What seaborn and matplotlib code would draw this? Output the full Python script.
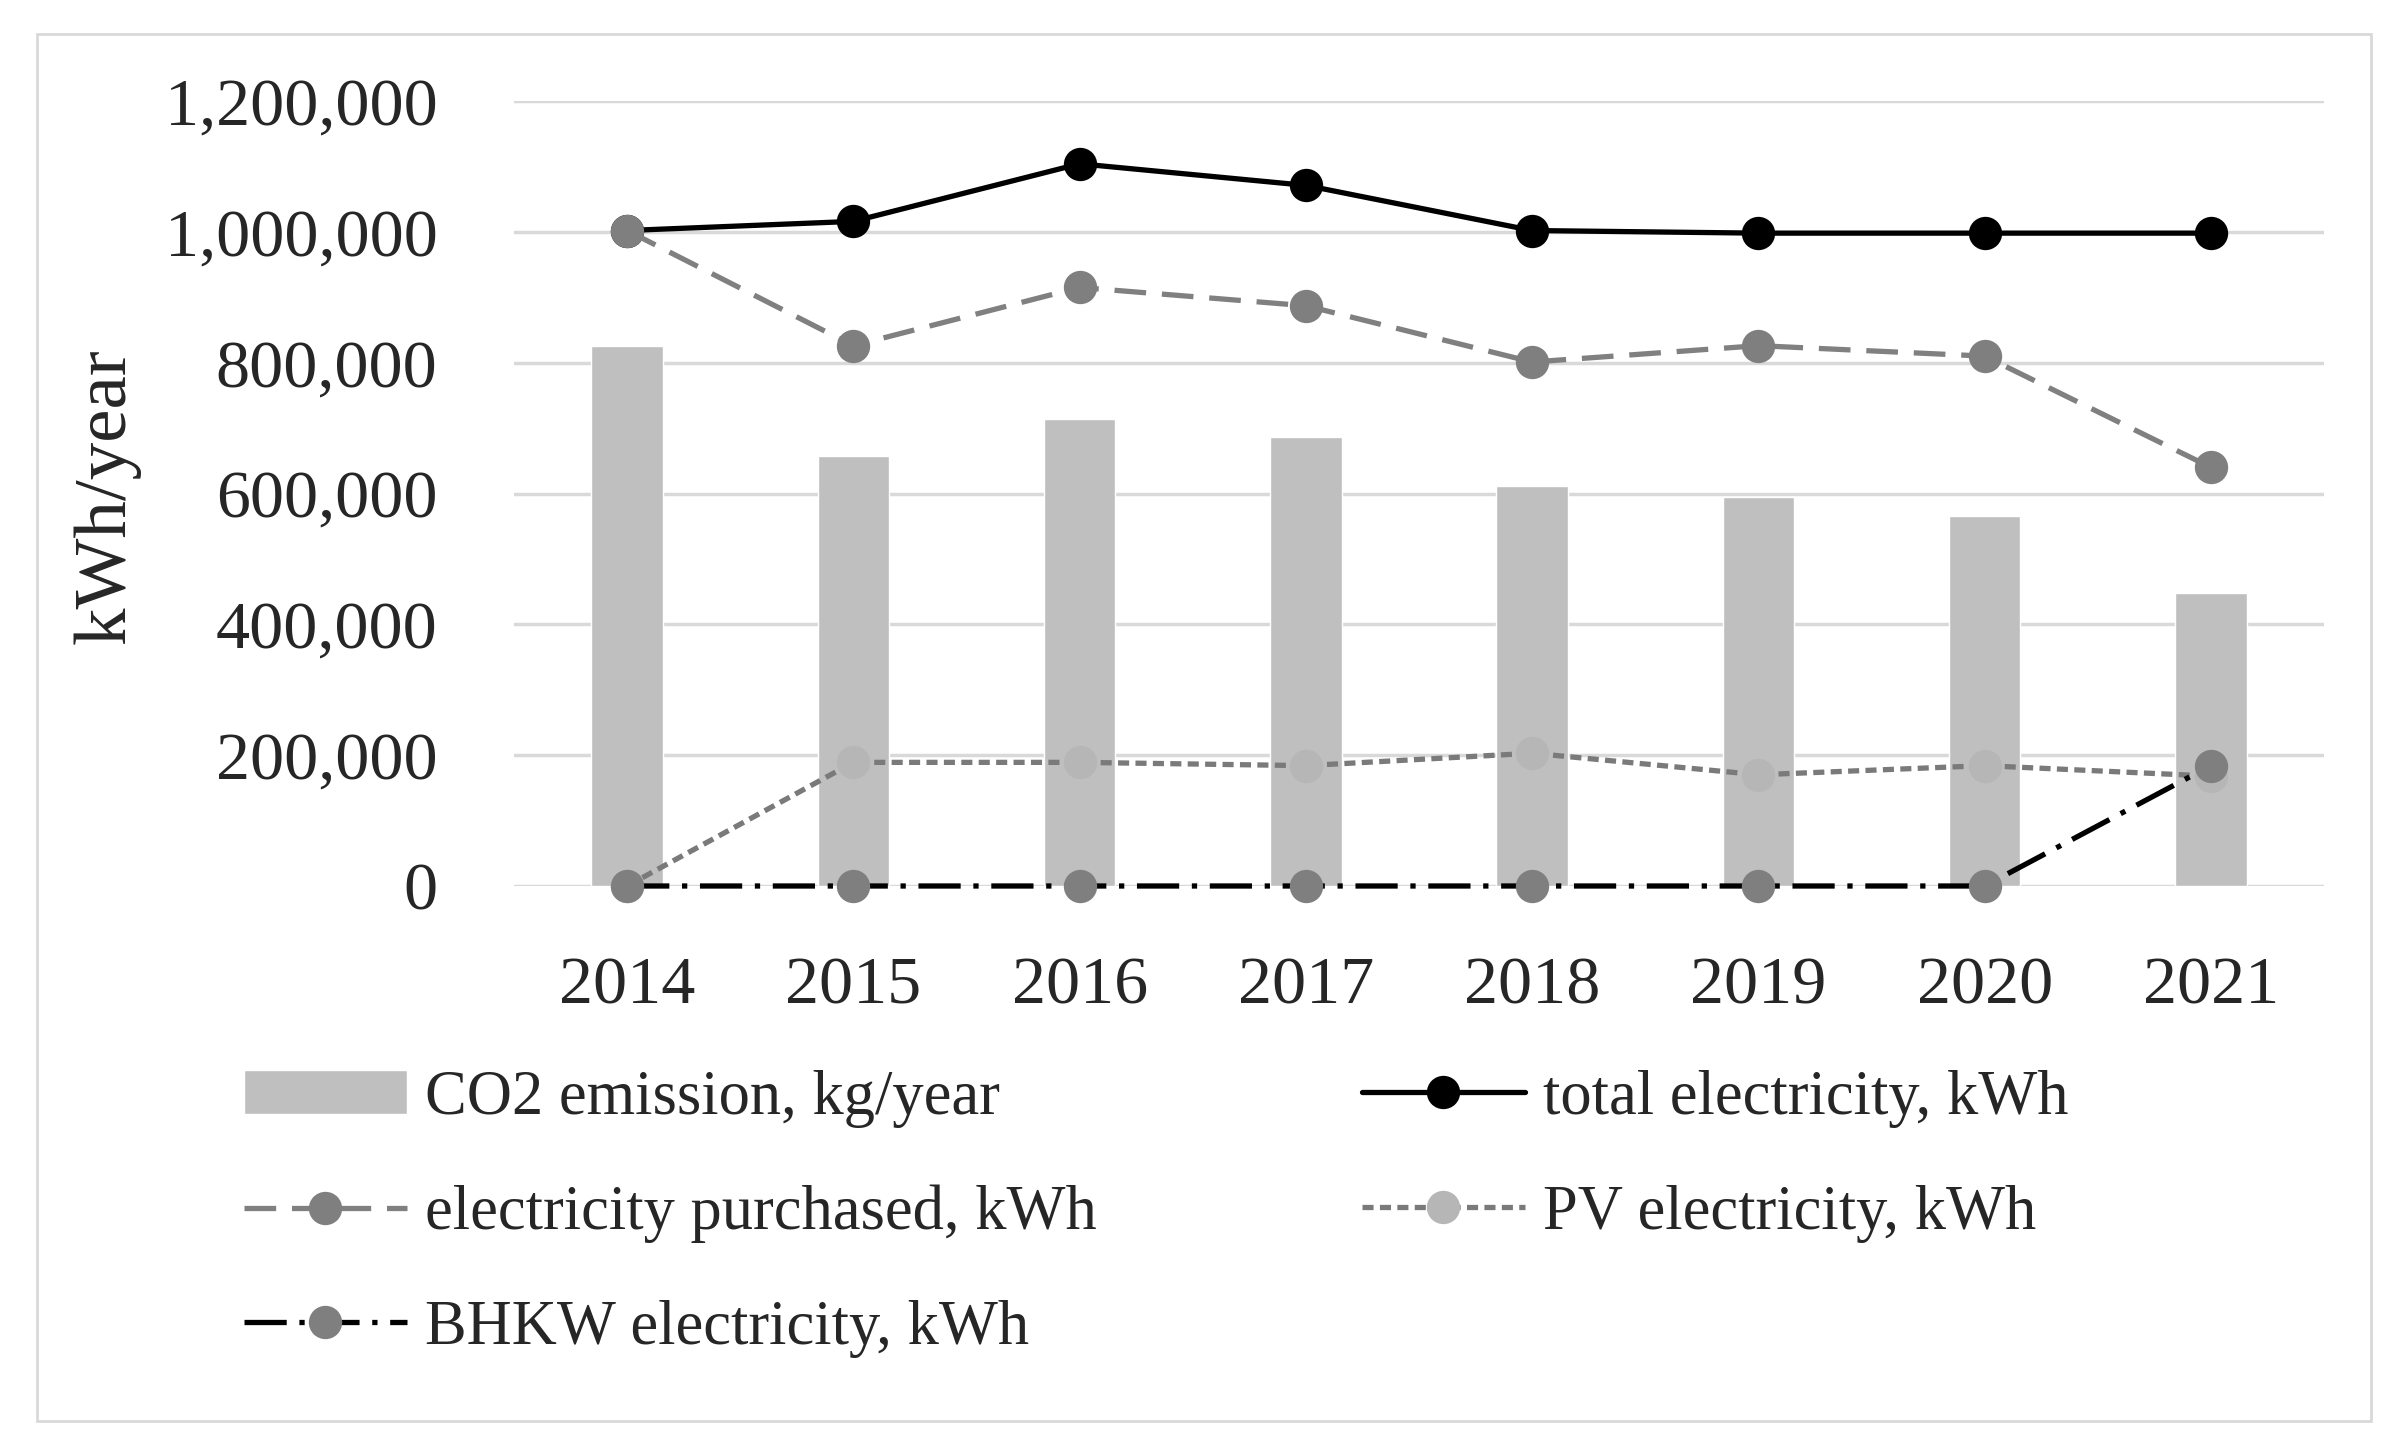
import numpy as np
import pandas as pd
import seaborn as sns
import matplotlib.pyplot as plt
from matplotlib.patches import Rectangle
from matplotlib.ticker import FuncFormatter

# chart values
years = [2014, 2015, 2016, 2017, 2018, 2019, 2020, 2021]
co2_emission = [826000, 658000, 714000, 686000, 612000, 595000, 565000, 448000]
total_el = [1002000, 1016000, 1104000, 1071000, 1002000, 998000, 998000, 998000]
purchased_el = [1002000, 826000, 915000, 887000, 801000, 826000, 810000, 640000]
pv_el = [0, 189000, 189000, 184000, 203000, 170000, 184000, 168000]
bhkw_el = [0, 0, 0, 0, 0, 0, 0, 184000]

y_ticks = [0, 200000, 400000, 600000, 800000, 1000000, 1200000]

df = pd.DataFrame({
    "year": years, "co2": co2_emission, "total": total_el,
    "purchased": purchased_el, "pv": pv_el, "bhkw": bhkw_el,
})

sns.set_theme(style="white")
plt.rcParams["font.family"] = ["Liberation Serif", "DejaVu Serif"]

W, H = 2383, 1449
fig = plt.figure(figsize=(W / 100, H / 100), dpi=100)
ax = fig.add_axes([514 / W, 1 - 886 / H, (2324 - 514) / W, (886 - 101) / H])

# bars
sns.barplot(data=df, x="year", y="co2", native_scale=True, width=0.315,
            color="#bfbfbf", saturation=1, ax=ax, label="CO2 emission, kg/year",
            zorder=2)

lw = 3.8
ms = 24
sns.lineplot(data=df, x="year", y="total", color="black", lw=lw,
             marker="o", markersize=ms, markeredgewidth=0, ax=ax,
             label="total electricity, kWh", zorder=3, clip_on=False)
sns.lineplot(data=df, x="year", y="purchased", color="#808080", lw=lw,
             linestyle=(0, (6, 3)), marker="o", markersize=ms,
             markerfacecolor="#7f7f7f", markeredgewidth=0, ax=ax,
             label="electricity purchased, kWh", zorder=4, clip_on=False)
sns.lineplot(data=df, x="year", y="pv", color="#7a7a7a", lw=lw,
             linestyle=(0, (2.1, 1.2)), marker="o", markersize=ms,
             markerfacecolor="#b6b6b6", markeredgewidth=0, ax=ax,
             label="PV electricity, kWh", zorder=5, clip_on=False)
sns.lineplot(data=df, x="year", y="bhkw", color="black", lw=lw,
             linestyle=(0, (8, 2.4, 1, 2.4)), marker="o", markersize=ms,
             markerfacecolor="#7f7f7f", markeredgewidth=0, ax=ax,
             label="BHKW electricity, kWh", zorder=6, clip_on=False)

ax.set_xlim(2013.5, 2021.5)
ax.set_ylim(0, 1200000)
ax.set_xticks(years)
ax.set_xticklabels([str(y) for y in years])
ax.set_yticks(y_ticks)
ax.yaxis.set_major_formatter(FuncFormatter(lambda v, p: f"{v:,.0f}"))
ax.set_xlabel("")
ax.set_ylabel("")
ax.grid(axis="y", color="#d9d9d9", lw=2.5)
ax.grid(axis="x", visible=False)
ax.set_axisbelow(True)
for s in ax.spines.values():
    s.set_visible(False)
ax.tick_params(axis="y", length=0, pad=55, labelsize=49, labelcolor="#262626")
ax.tick_params(axis="x", length=0, pad=51, labelsize=49, labelcolor="#262626")

fig.text(107 / W, 1 - 496 / H, "kWh/year", rotation=90, ha="center",
         va="center", fontsize=54, color="#262626")

# legend in two columns, placed by hand
handles, labels = ax.get_legend_handles_labels()
lookup = dict(zip(labels, handles))
ax.get_legend().remove()
col1 = ["CO2 emission, kg/year", "electricity purchased, kWh", "BHKW electricity, kWh"]
col2 = ["total electricity, kWh", "PV electricity, kWh"]
leg_kw = dict(loc="upper left", frameon=False, fontsize=45, handlelength=2.6,
              handletextpad=0.3, labelspacing=0.91, borderpad=0,
              borderaxespad=0, labelcolor="#262626")
fig.legend([lookup[l] for l in col1], col1, bbox_to_anchor=(244 / W, 1 - 1070 / H), **leg_kw)
fig.legend([lookup[l] for l in col2], col2, bbox_to_anchor=(1362 / W, 1 - 1070 / H), **leg_kw)

# outer frame
fig.patches.append(Rectangle((37 / W, 1 - 1421 / H), (2371 - 37) / W, (1421 - 34) / H,
                             transform=fig.transFigure, fill=False,
                             ec="#d9d9d9", lw=2))

fig.savefig("out.png", dpi=100, facecolor="white")
